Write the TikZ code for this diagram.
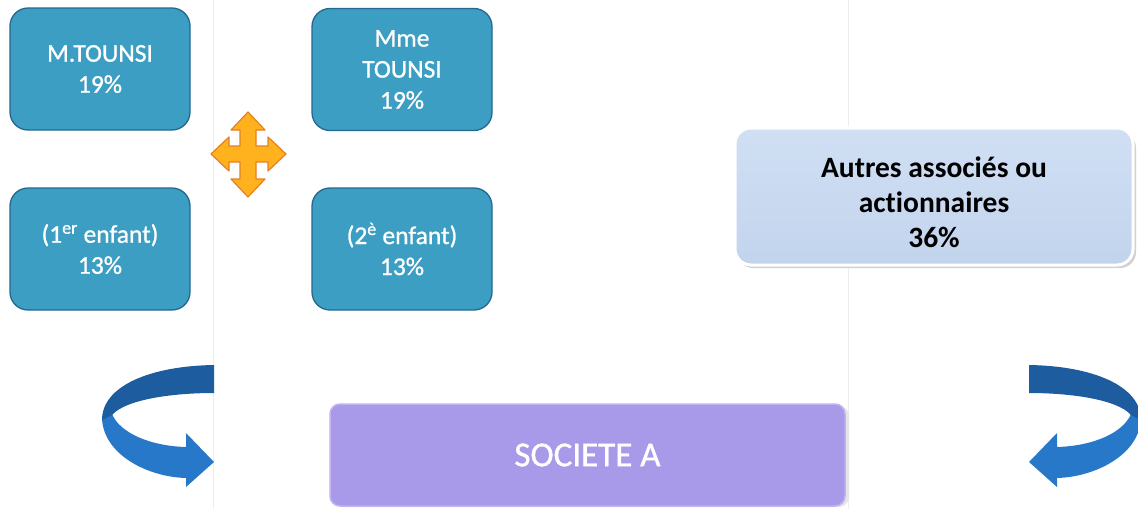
\documentclass[tikz,border=0pt]{standalone}
\usepackage{fontspec}
\setmainfont{Carlito}[Ligatures=NoCommon]
\newfontfamily\heavyfont{Carlito}[FakeBold=1,Ligatures=NoCommon]
\definecolor{tealfill}{RGB}{60,158,194}
\definecolor{tealedge}{RGB}{36,104,146}
\definecolor{lavender}{RGB}{168,154,232}
\definecolor{lavedge}{RGB}{196,176,242}
\definecolor{paletop}{RGB}{208,223,243}
\definecolor{palebot}{RGB}{194,212,237}
\definecolor{crossfill}{RGB}{255,178,30}
\definecolor{crossedge}{RGB}{228,128,36}
\definecolor{ribbondark}{RGB}{30,92,160}
\definecolor{ribbonlight}{RGB}{40,120,202}
\tikzset{
  member/.style={draw=tealedge, line width=1.3pt, fill=tealfill, rounded corners=18pt,
    minimum width=180pt, minimum height=122pt, align=center, text=white,
    font=\heavyfont\fontsize{25.5}{31}\selectfont},
  others/.style={draw=white, line width=3pt, top color=paletop, bottom color=palebot,
    rounded corners=16pt, minimum width=398pt, minimum height=137pt},
  otherstext/.style={align=center, text=black,
    font=\bfseries\fontsize{29.5}{35}\selectfont},
  company/.style={draw=lavedge, line width=1.5pt, fill=lavender, rounded corners=10pt,
    minimum width=515pt, minimum height=102pt, text=white,
    font=\heavyfont\fontsize{35}{40}\selectfont},
  crossarrow/.style={draw=crossedge, line width=1.2pt, fill=crossfill, line join=round},
  guide/.style={draw=black!7, line width=0.8pt}
}
\begin{document}
\begin{tikzpicture}[x=1pt,y=-1pt]
\useasboundingbox (0,0) rectangle (1138,509);
\fill[white] (0,0) rectangle (1138,509);

% faint page edges
\draw[guide] (213,0) -- (213,509);
\draw[guide] (848,0) -- (848,509);

% family members
\node[member] (pere) at (100,69) {M.TOUNSI\\19\%};
\node[member] (mere) at (402,69.5) {Mme\\TOUNSI\\19\%};
\node[member] (enf1) at (100,249) {(1\textsuperscript{er} enfant)\\13\%};
\node[member] (enf2) at (402,249) {(2\textsuperscript{è} enfant)\\13\%};

% four-way arrow between the members
\draw[crossarrow, shift={(248,154)}]
  (-8,-8) -- (-8,-24) -- (-17,-24) -- (0,-42) -- (17,-24) -- (8,-24) -- (8,-8)
  -- (20,-8) -- (20,-17) -- (38,0) -- (20,17) -- (20,8) -- (8,8)
  -- (8,25) -- (17,25) -- (0,43) -- (-17,25) -- (-8,25) -- (-8,8)
  -- (-19,8) -- (-19,17) -- (-37,0) -- (-19,-17) -- (-19,-8) -- cycle;

% other shareholders
\fill[black!18] (737,132) [rounded corners=16pt] rectangle (1136,268);
\node[others] (autres) at (934,196.5) {};
\node[otherstext] (autrestxt) at (934,202) {Autres associés ou\\actionnaires\\36\%};

% company
\fill[black!10] (333,406) [rounded corners=10pt] rectangle (849,507);
\node[company] (societe) at (587.5,455) {SOCIETE A};

% curved ribbon arrows
\foreach \tx/\sx in {0/1, 1243/-1}{
\begin{scope}[shift={(\tx,0)}, xscale=\sx]
  \fill[ribbonlight]
    (102,419) .. controls (104,455) and (148,477) .. (186,478)
    -- (186,487) -- (214,462) -- (186,433) -- (186,447)
    .. controls (150,446) and (120,433) .. (112,414) -- cycle;
  \fill[ribbondark]
    (214,365) .. controls (150,366) and (102,386) .. (102,420)
    -- (112,415) .. controls (125,400) and (170,393) .. (214,393) -- cycle;
\end{scope}
}
\end{tikzpicture}
\end{document}
